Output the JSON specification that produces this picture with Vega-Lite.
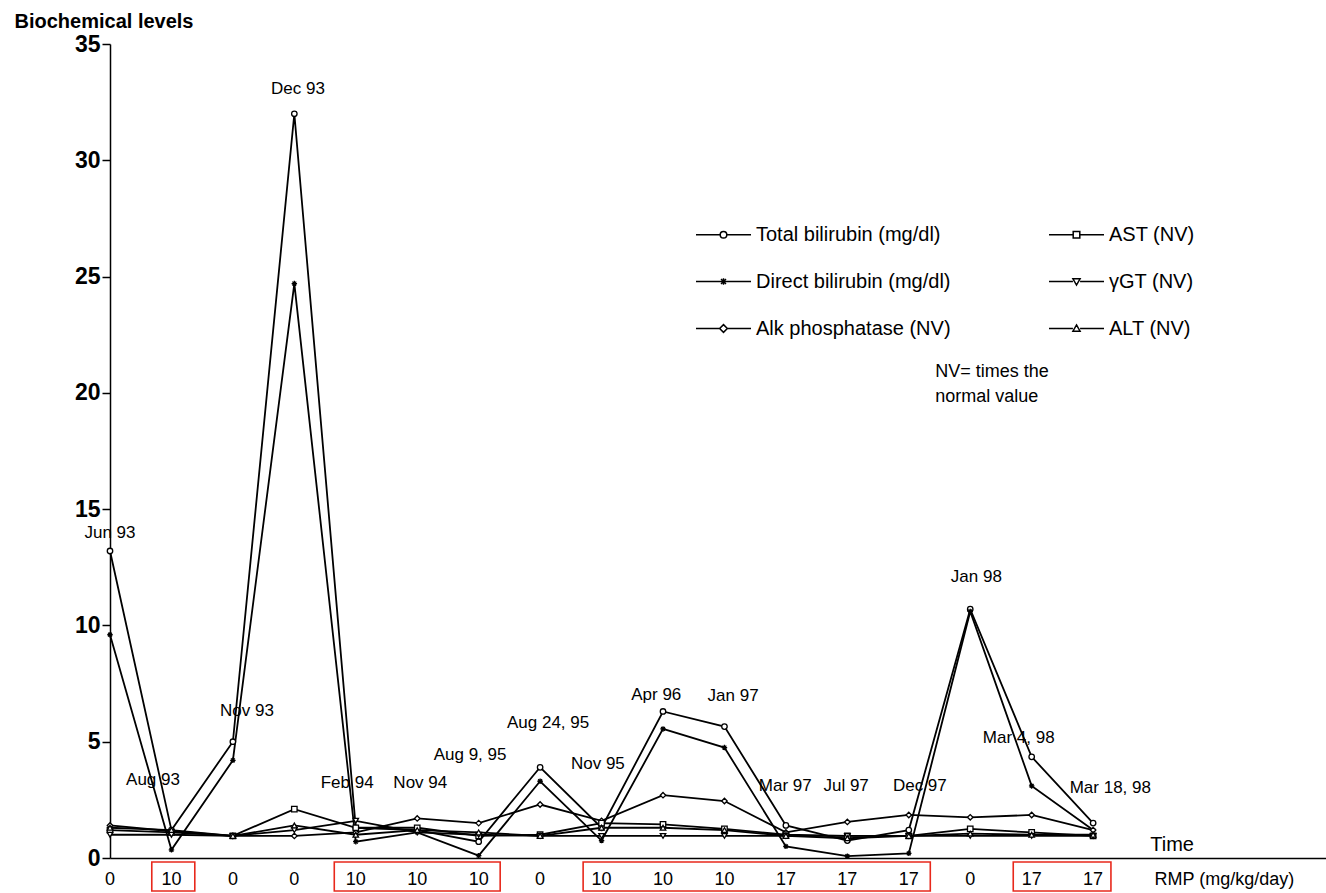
{
  "$schema": "https://vega.github.io/schema/vega-lite/v6.json",
  "width": 1216,
  "height": 814,
  "autosize": {"type": "none"},
  "padding": {"left": 110, "top": 44, "right": 0, "bottom": 35},
  "background": "white",
  "config": {
    "view": {"stroke": null},
    "font": "Liberation Sans",
    "text": {"font": "Liberation Sans"}
  },
  "datasets": {
    "series": [
      {"t": 0, "s": "Total bilirubin (mg/dl)", "v": 13.2}, {"t": 1, "s": "Total bilirubin (mg/dl)", "v": 1.2}, {"t": 2, "s": "Total bilirubin (mg/dl)", "v": 5.0}, {"t": 3, "s": "Total bilirubin (mg/dl)", "v": 32.0}, {"t": 4, "s": "Total bilirubin (mg/dl)", "v": 1.3}, {"t": 5, "s": "Total bilirubin (mg/dl)", "v": 1.2}, {"t": 6, "s": "Total bilirubin (mg/dl)", "v": 0.7}, {"t": 7, "s": "Total bilirubin (mg/dl)", "v": 3.9}, {"t": 8, "s": "Total bilirubin (mg/dl)", "v": 1.3}, {"t": 9, "s": "Total bilirubin (mg/dl)", "v": 6.3}, {"t": 10, "s": "Total bilirubin (mg/dl)", "v": 5.65}, {"t": 11, "s": "Total bilirubin (mg/dl)", "v": 1.4}, {"t": 12, "s": "Total bilirubin (mg/dl)", "v": 0.75}, {"t": 13, "s": "Total bilirubin (mg/dl)", "v": 1.2}, {"t": 14, "s": "Total bilirubin (mg/dl)", "v": 10.7}, {"t": 15, "s": "Total bilirubin (mg/dl)", "v": 4.35}, {"t": 16, "s": "Total bilirubin (mg/dl)", "v": 1.5},
      {"t": 0, "s": "Direct bilirubin (mg/dl)", "v": 9.6}, {"t": 1, "s": "Direct bilirubin (mg/dl)", "v": 0.35}, {"t": 2, "s": "Direct bilirubin (mg/dl)", "v": 4.2}, {"t": 3, "s": "Direct bilirubin (mg/dl)", "v": 24.7}, {"t": 4, "s": "Direct bilirubin (mg/dl)", "v": 0.7}, {"t": 5, "s": "Direct bilirubin (mg/dl)", "v": 1.1}, {"t": 6, "s": "Direct bilirubin (mg/dl)", "v": 0.1}, {"t": 7, "s": "Direct bilirubin (mg/dl)", "v": 3.3}, {"t": 8, "s": "Direct bilirubin (mg/dl)", "v": 0.75}, {"t": 9, "s": "Direct bilirubin (mg/dl)", "v": 5.55}, {"t": 10, "s": "Direct bilirubin (mg/dl)", "v": 4.75}, {"t": 11, "s": "Direct bilirubin (mg/dl)", "v": 0.5}, {"t": 12, "s": "Direct bilirubin (mg/dl)", "v": 0.08}, {"t": 13, "s": "Direct bilirubin (mg/dl)", "v": 0.2}, {"t": 14, "s": "Direct bilirubin (mg/dl)", "v": 10.6}, {"t": 15, "s": "Direct bilirubin (mg/dl)", "v": 3.1}, {"t": 16, "s": "Direct bilirubin (mg/dl)", "v": 1.2},
      {"t": 0, "s": "Alk phosphatase (NV)", "v": 1.4}, {"t": 1, "s": "Alk phosphatase (NV)", "v": 1.15}, {"t": 2, "s": "Alk phosphatase (NV)", "v": 0.95}, {"t": 3, "s": "Alk phosphatase (NV)", "v": 0.95}, {"t": 4, "s": "Alk phosphatase (NV)", "v": 1.1}, {"t": 5, "s": "Alk phosphatase (NV)", "v": 1.7}, {"t": 6, "s": "Alk phosphatase (NV)", "v": 1.5}, {"t": 7, "s": "Alk phosphatase (NV)", "v": 2.3}, {"t": 8, "s": "Alk phosphatase (NV)", "v": 1.6}, {"t": 9, "s": "Alk phosphatase (NV)", "v": 2.7}, {"t": 10, "s": "Alk phosphatase (NV)", "v": 2.45}, {"t": 11, "s": "Alk phosphatase (NV)", "v": 1.1}, {"t": 12, "s": "Alk phosphatase (NV)", "v": 1.55}, {"t": 13, "s": "Alk phosphatase (NV)", "v": 1.85}, {"t": 14, "s": "Alk phosphatase (NV)", "v": 1.75}, {"t": 15, "s": "Alk phosphatase (NV)", "v": 1.85}, {"t": 16, "s": "Alk phosphatase (NV)", "v": 1.2},
      {"t": 0, "s": "AST (NV)", "v": 1.2}, {"t": 1, "s": "AST (NV)", "v": 1.1}, {"t": 2, "s": "AST (NV)", "v": 0.95}, {"t": 3, "s": "AST (NV)", "v": 2.1}, {"t": 4, "s": "AST (NV)", "v": 1.3}, {"t": 5, "s": "AST (NV)", "v": 1.3}, {"t": 6, "s": "AST (NV)", "v": 0.95}, {"t": 7, "s": "AST (NV)", "v": 1.0}, {"t": 8, "s": "AST (NV)", "v": 1.5}, {"t": 9, "s": "AST (NV)", "v": 1.45}, {"t": 10, "s": "AST (NV)", "v": 1.25}, {"t": 11, "s": "AST (NV)", "v": 1.0}, {"t": 12, "s": "AST (NV)", "v": 0.95}, {"t": 13, "s": "AST (NV)", "v": 0.95}, {"t": 14, "s": "AST (NV)", "v": 1.25}, {"t": 15, "s": "AST (NV)", "v": 1.1}, {"t": 16, "s": "AST (NV)", "v": 0.95},
      {"t": 0, "s": "γGT (NV)", "v": 1.0}, {"t": 1, "s": "γGT (NV)", "v": 1.0}, {"t": 2, "s": "γGT (NV)", "v": 0.95}, {"t": 3, "s": "γGT (NV)", "v": 1.2}, {"t": 4, "s": "γGT (NV)", "v": 1.6}, {"t": 5, "s": "γGT (NV)", "v": 1.1}, {"t": 6, "s": "γGT (NV)", "v": 1.0}, {"t": 7, "s": "γGT (NV)", "v": 0.95}, {"t": 8, "s": "γGT (NV)", "v": 0.95}, {"t": 9, "s": "γGT (NV)", "v": 0.95}, {"t": 10, "s": "γGT (NV)", "v": 0.95}, {"t": 11, "s": "γGT (NV)", "v": 0.95}, {"t": 12, "s": "γGT (NV)", "v": 0.95}, {"t": 13, "s": "γGT (NV)", "v": 0.95}, {"t": 14, "s": "γGT (NV)", "v": 0.95}, {"t": 15, "s": "γGT (NV)", "v": 0.95}, {"t": 16, "s": "γGT (NV)", "v": 0.95},
      {"t": 0, "s": "ALT (NV)", "v": 1.3}, {"t": 1, "s": "ALT (NV)", "v": 1.2}, {"t": 2, "s": "ALT (NV)", "v": 0.95}, {"t": 3, "s": "ALT (NV)", "v": 1.4}, {"t": 4, "s": "ALT (NV)", "v": 1.0}, {"t": 5, "s": "ALT (NV)", "v": 1.2}, {"t": 6, "s": "ALT (NV)", "v": 1.1}, {"t": 7, "s": "ALT (NV)", "v": 0.95}, {"t": 8, "s": "ALT (NV)", "v": 1.3}, {"t": 9, "s": "ALT (NV)", "v": 1.3}, {"t": 10, "s": "ALT (NV)", "v": 1.2}, {"t": 11, "s": "ALT (NV)", "v": 0.95}, {"t": 12, "s": "ALT (NV)", "v": 0.85}, {"t": 13, "s": "ALT (NV)", "v": 0.95}, {"t": 14, "s": "ALT (NV)", "v": 1.05}, {"t": 15, "s": "ALT (NV)", "v": 1.0}, {"t": 16, "s": "ALT (NV)", "v": 1.0}
    ],
    "labels": [
      {"x": 0, "y": 13.97, "text": "Jun 93"},
      {"x": 0.70, "y": 3.35, "text": "Aug 93"},
      {"x": 2.23, "y": 6.32, "text": "Nov 93"},
      {"x": 3.06, "y": 33.07, "text": "Dec 93"},
      {"x": 3.86, "y": 3.22, "text": "Feb 94"},
      {"x": 5.05, "y": 3.22, "text": "Nov 94"},
      {"x": 5.86, "y": 4.43, "text": "Aug 9, 95"},
      {"x": 7.13, "y": 5.80, "text": "Aug 24, 95"},
      {"x": 7.94, "y": 4.04, "text": "Nov 95"},
      {"x": 8.89, "y": 7.01, "text": "Apr 96"},
      {"x": 10.14, "y": 6.97, "text": "Jan 97"},
      {"x": 10.99, "y": 3.10, "text": "Mar 97"},
      {"x": 11.98, "y": 3.10, "text": "Jul 97"},
      {"x": 13.18, "y": 3.10, "text": "Dec 97"},
      {"x": 14.10, "y": 12.08, "text": "Jan 98"},
      {"x": 14.79, "y": 5.16, "text": "Mar 4, 98"},
      {"x": 16.28, "y": 3.01, "text": "Mar 18, 98"}
    ],
    "rmp": [
      {"t": 0, "r": "0"}, {"t": 1, "r": "10"}, {"t": 2, "r": "0"}, {"t": 3, "r": "0"}, {"t": 4, "r": "10"}, {"t": 5, "r": "10"}, {"t": 6, "r": "10"}, {"t": 7, "r": "0"}, {"t": 8, "r": "10"}, {"t": 9, "r": "10"}, {"t": 10, "r": "10"}, {"t": 11, "r": "17"}, {"t": 12, "r": "17"}, {"t": 13, "r": "17"}, {"t": 14, "r": "0"}, {"t": 15, "r": "17"}, {"t": 16, "r": "17"}
    ],
    "boxes": [
      {"x0": 0.68, "x1": 1.38},
      {"x0": 3.65, "x1": 6.35},
      {"x0": 7.70, "x1": 13.35},
      {"x0": 14.70, "x1": 16.29}
    ]
  },
  "resolve": {"scale": {"shape": "independent"}, "legend": {"shape": "independent"}},
  "layer": [
    {
      "data": {"name": "series"},
      "mark": {"type": "line", "color": "black", "strokeWidth": 1.8, "clip": false},
      "encoding": {
        "x": {"field": "t", "type": "quantitative", "scale": {"domain": [0, 19.79], "nice": false, "zero": false},
              "axis": {"labels": false, "ticks": false, "title": null, "grid": false, "domainColor": "black", "domainWidth": 1.5}},
        "y": {"field": "v", "type": "quantitative", "scale": {"domain": [0, 35], "nice": false},
              "axis": {"values": [0, 5, 10, 15, 20, 25, 30, 35], "grid": false, "domainColor": "black", "domainWidth": 1.5,
                       "tickColor": "black", "tickSize": 8, "tickWidth": 1.5, "labelFontSize": 23, "labelFontWeight": "bold", "labelColor": "black",
                       "labelPadding": 2, "labelFont": "Liberation Sans",
                       "title": "Biochemical levels", "titleAngle": 0, "titleAlign": "left", "titleBaseline": "middle",
                       "titleX": -96, "titleY": -23, "titleFontSize": 20, "titleFontWeight": "bold", "titleColor": "black", "titleFont": "Liberation Sans"}},
        "detail": {"field": "s"}
      }
    },
    {
      "data": {"name": "series"},
      "mark": {"type": "point", "filled": false, "fill": "white", "fillOpacity": 1, "stroke": "black", "strokeWidth": 1.3, "size": 30, "opacity": 1, "clip": false},
      "encoding": {
        "x": {"field": "t", "type": "quantitative"},
        "y": {"field": "v", "type": "quantitative"},
        "shape": {"field": "s", "type": "nominal", "legend": null,
          "scale": {"domain": ["Total bilirubin (mg/dl)", "Direct bilirubin (mg/dl)", "Alk phosphatase (NV)", "AST (NV)", "γGT (NV)", "ALT (NV)"],
                    "range": ["circle", "M-1,0H1M0,-1V1M-0.7,-0.7L0.7,0.7M-0.7,0.7L0.7,-0.7", "diamond", "square", "triangle-down", "triangle-up"]}}
      }
    },
    {
      "data": {"name": "series"},
      "mark": {"type": "point", "filled": false, "size": 0, "opacity": 0},
      "encoding": {
        "x": {"field": "t", "type": "quantitative"},
        "y": {"field": "v", "type": "quantitative"},
        "shape": {"field": "s", "type": "nominal",
          "scale": {"domain": ["Total bilirubin (mg/dl)", "Direct bilirubin (mg/dl)", "Alk phosphatase (NV)", "AST (NV)", "γGT (NV)", "ALT (NV)"],
                    "range": [
                      "M-1,0H-0.12M0.12,0H1M0.12,0A0.12,0.12 0 1 1 -0.12,0A0.12,0.12 0 1 1 0.12,0",
                      "M-1,0H1M-0.09,-0.09L0.09,0.09M-0.09,0.09L0.09,-0.09M0,-0.12V0.12",
                      "M-1,0H-0.14M0.14,0H1M0,-0.14L0.14,0L0,0.14L-0.14,0Z",
                      "M-1,0H-0.12M0.12,0H1M-0.12,-0.12H0.12V0.12H-0.12Z",
                      "M-1,0H-0.13M0.13,0H1M-0.13,-0.1H0.13L0,0.13Z",
                      "M-1,0H-0.13M0.13,0H1M0,-0.13L0.13,0.1H-0.13Z"
                    ]},
          "legend": {"title": null, "orient": "none", "legendX": 585, "legendY": 162, "columns": 2, "columnPadding": 95, "rowPadding": 8,
                     "symbolSize": 3025, "symbolStrokeColor": "black", "symbolFillColor": "white", "symbolStrokeWidth": 1.5, "symbolOpacity": 1,
                     "labelFontSize": 20, "labelFont": "Liberation Sans", "labelColor": "black", "labelOffset": 4, "labelLimit": 400,
                     "symbolOffset": 0}}
      }
    },
    {
      "data": {"name": "labels"},
      "mark": {"type": "text", "fontSize": 17, "font": "Liberation Sans", "color": "black", "align": "center", "baseline": "middle", "clip": false},
      "encoding": {
        "x": {"field": "x", "type": "quantitative"},
        "y": {"field": "y", "type": "quantitative"},
        "text": {"field": "text"}
      }
    },
    {
      "data": {"name": "rmp"},
      "mark": {"type": "text", "fontSize": 18, "font": "Liberation Sans", "color": "black", "align": "center", "baseline": "middle", "clip": false},
      "encoding": {
        "x": {"field": "t", "type": "quantitative"},
        "y": {"datum": -0.95},
        "text": {"field": "r"}
      }
    },
    {
      "data": {"name": "boxes"},
      "mark": {"type": "rect", "fill": null, "stroke": "#e8291c", "strokeWidth": 1.6, "clip": false},
      "encoding": {
        "x": {"field": "x0", "type": "quantitative"},
        "x2": {"field": "x1"},
        "y": {"datum": -0.17},
        "y2": {"datum": -1.42}
      }
    },
    {
      "data": {"values": [{"text": "Time"}]},
      "mark": {"type": "text", "fontSize": 20, "font": "Liberation Sans", "color": "black", "align": "left", "baseline": "middle", "clip": false},
      "encoding": {
        "x": {"datum": 16.93},
        "y": {"datum": 0.56},
        "text": {"field": "text"}
      }
    },
    {
      "data": {"values": [{"text": "RMP (mg/kg/day)"}]},
      "mark": {"type": "text", "fontSize": 18, "font": "Liberation Sans", "color": "black", "align": "left", "baseline": "middle", "clip": false},
      "encoding": {
        "x": {"datum": 17.0},
        "y": {"datum": -0.95},
        "text": {"field": "text"}
      }
    },
    {
      "data": {"values": [{"text": ["NV= times the", "normal value"]}]},
      "mark": {"type": "text", "fontSize": 18, "font": "Liberation Sans", "color": "black", "align": "left", "baseline": "middle", "lineHeight": 25, "clip": false},
      "encoding": {
        "x": {"datum": 13.43},
        "y": {"datum": 20.9},
        "text": {"field": "text"}
      }
    }
  ]
}
